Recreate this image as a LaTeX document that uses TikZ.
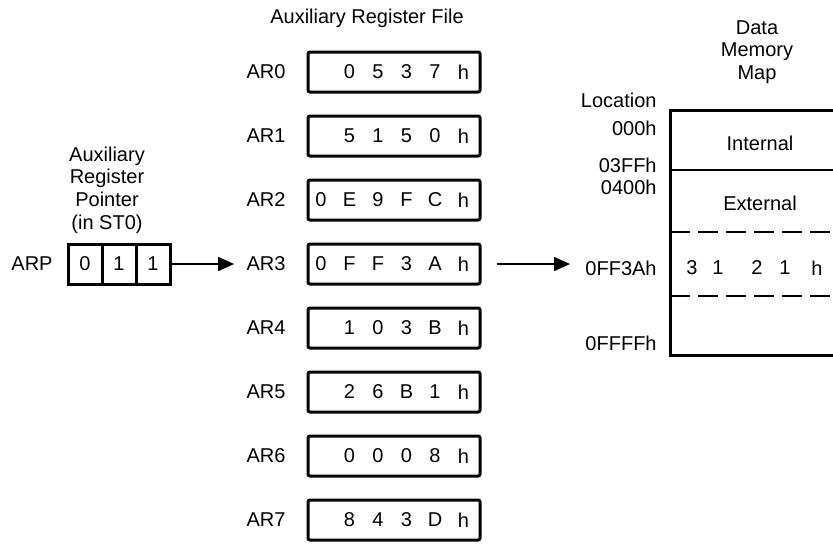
\documentclass[tikz,border=0pt]{standalone}
\usepackage{fontspec}
\setmainfont{Liberation Sans}
\usetikzlibrary{arrows.meta, positioning}

\begin{document}
\begin{tikzpicture}[x=0.5pt, y=-0.5pt, font=\fontsize{10}{11.3}\selectfont,
  regbox/.style={draw, line width=1.5pt, rounded corners=1pt,
    minimum width=86pt, minimum height=20pt, inner sep=0pt},
  cell/.style={draw, line width=1.5pt, minimum width=17pt,
    minimum height=20pt, inner sep=0pt},
  lbl/.style={inner sep=0pt},
  hexch/.style={inner sep=0pt},
  ptr/.style={-{Triangle[length=8pt, width=7pt]}, line width=0.6pt},
  mapline/.style={line width=1.5pt},
  slotline/.style={line width=0.7pt, dash pattern=on 10pt off 4pt}]

  \useasboundingbox (0,0) rectangle (833,543);

  % ── Auxiliary register pointer ──
  \node[align=center] (ptitle) at (107,190)
    {Auxiliary\\Register\\Pointer\\(in ST0)};
  \node[lbl] (arp) at (32,264) {ARP};
  \node[cell] (p0) at (85,264) {0};
  \node[cell] (p1) at (119,264) {1};
  \node[cell] (p2) at (153,264) {1};

  % ── Auxiliary register file ──
  \node (ftitle) at (367,18) {Auxiliary Register File};
  \foreach \i/\s/\chars in {0/1/{0,5,3,7,h}, 1/1/{5,1,5,0,h},
      2/0/{0,E,9,F,C,h}, 3/0/{0,F,F,3,A,h}, 4/1/{1,0,3,B,h},
      5/1/{2,6,B,1,h}, 6/1/{0,0,0,8,h}, 7/1/{8,4,3,D,h}} {
    \node[lbl] (ar\i) at (266,72+64*\i) {AR\i};
    \node[regbox] (reg\i) at (394,72+64*\i) {};
    \foreach \c [count=\k from 0] in \chars
      \node[hexch] (d\i-\k) at (321+28.5*\s+28.5*\k,72+64*\i) {\c};
  }

  % ── Data memory map ──
  \node[align=center] (mtitle) at (757,52) {Data\\Memory\\Map};
  \draw[mapline] (833,110) -| (670,355) -- (833,355);
  \draw[line width=0.8pt] (670,170) -- (833,170);
  \draw[slotline] (670,232) -- (833,232);
  \draw[slotline] (670,296) -- (833,296);
  \node (internal) at (760,143) {Internal};
  \node (external) at (760,203) {External};
  \foreach \c/\x [count=\k] in {3/692, 1/718, 2/757, 1/785, h/817}
    \node[hexch] (m\k) at (\x,268) {\c};

  % location labels
  \node[lbl, anchor=east] (loctitle) at (657,100) {Location};
  \node[lbl, anchor=east] (loc0) at (657,128) {000h};
  \node[lbl, anchor=east] (loc1) at (657,165) {03FFh};
  \node[lbl, anchor=east] (loc2) at (657,187) {0400h};
  \node[lbl, anchor=east] (loc3) at (657,268) {0FF3Ah};
  \node[lbl, anchor=east] (loc4) at (657,343) {0FFFFh};

  % ── Pointer arrows ──
  \draw[ptr, shorten >=6pt] (p2.east) -- (ar3.west);
  \draw[ptr, shorten <=7.5pt, shorten >=7.5pt] (reg3.east) -- (loc3.west |- reg3.east);

\end{tikzpicture}
\end{document}
